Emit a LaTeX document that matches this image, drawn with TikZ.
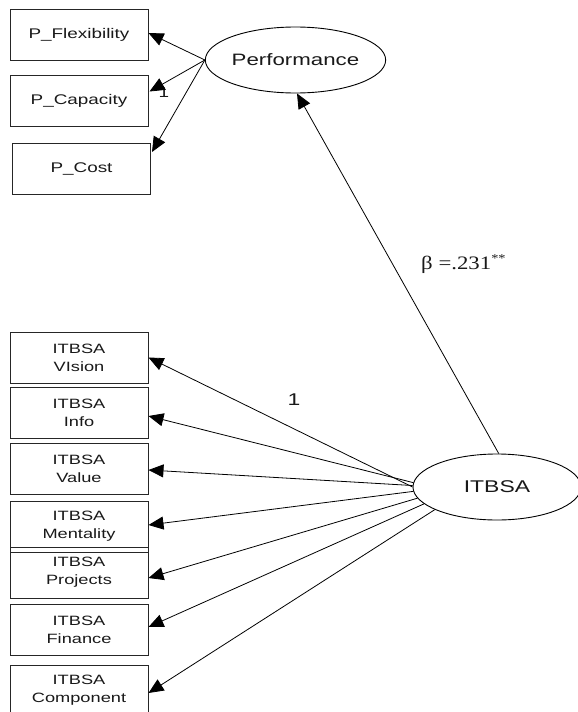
\documentclass[tikz,border=0pt]{standalone}
\usepackage{fontspec}
\usetikzlibrary{shapes.geometric,arrows.meta}
\newfontfamily\labfont[FakeStretch=1.35]{Liberation Sans}
\newfontfamily\coeffont[FakeStretch=1.2]{Liberation Serif}
\begin{document}
\begin{tikzpicture}[x=1pt,y=-1pt,
  indicator/.style={draw=black!85,line width=1pt,minimum width=138pt,minimum height=51pt,
    inner sep=0pt,align=center,text=black!90,font=\labfont\fontsize{13.5}{18}\selectfont},
  pindicator/.style={indicator,font=\labfont\fontsize{14}{18}\selectfont},
  latent/.style={draw=black,line width=0.9pt,ellipse,inner sep=0pt,text=black!90},
  load/.style={line width=0.8pt,-{Triangle[length=15pt,width=13pt]}}]
\useasboundingbox (0,0) rectangle (578,712);
\clip (0,0) rectangle (578,712);

% performance construct and its indicators
\node[latent,minimum width=175pt,minimum height=66pt,
  font=\labfont\fontsize{16.5}{20}\selectfont] (perf) at (295.5,60) {Performance};
\node[pindicator] (flex) at (79,35) {P\_Flexibility};
\node[pindicator] (cap) at (79,100.5) {P\_Capacity};
\node[pindicator] (cost) at (81.5,169) {P\_Cost};
\node[font=\labfont\fontsize{14}{16}\selectfont,text=black!90] (capfix) at (164,93) {1};

% ITBSA construct and its indicators
\node[latent,minimum width=168pt,minimum height=66pt,
  font=\labfont\fontsize{17}{20}\selectfont] (itbsa) at (497,487) {ITBSA};
\node[indicator] (vision) at (79,357.5) {ITBSA\\VIsion};
\node[indicator] (info) at (79,413) {ITBSA\\Info};
\node[indicator] (value) at (79,468.5) {ITBSA\\Value};
\node[indicator] (mental) at (79,526.5) {ITBSA\\Mentality};
\node[indicator] (proj) at (79,572.5) {ITBSA\\Projects};
\node[indicator] (fin) at (79,629.5) {ITBSA\\Finance};
\node[indicator] (comp) at (79,690.5) {ITBSA\\Component};

% loadings
\draw[load] (perf.west) -- ([yshift=2pt]flex.east);
\draw[load] (perf.west) -- ([xshift=1pt,yshift=9pt]cap.east);
\draw[load] (perf.west) -- ([xshift=1pt,yshift=17pt]cost.east);

\draw[load] (itbsa.180) -- (vision.east);
\draw[load] (itbsa.177) -- ([yshift=-3pt]info.east);
\draw[load] (itbsa.179) -- ([yshift=-1.5pt]value.east);
\draw[load] (itbsa.183) -- ([yshift=1.5pt]mental.east);
\draw[load] (itbsa.188) -- ([yshift=-5.5pt]proj.east);
\draw[load] (itbsa.193) -- ([yshift=2.5pt]fin.east);
\draw[load] (itbsa.200) -- ([yshift=-2.5pt]comp.east);

% structural path
\draw[load] (itbsa.87) -- ([xshift=1.5pt]perf.south);

% labels
\node[font=\labfont\fontsize{17}{20}\selectfont,text=black!90] (fixone) at (294,400) {1};
\node[anchor=base west,inner sep=0pt,font=\coeffont\fontsize{19}{22}\selectfont,text=black!90]
  (beta) at (421,269) {β =.231\raisebox{7pt}{\fontsize{12}{12}\selectfont **}};
\end{tikzpicture}
\end{document}
